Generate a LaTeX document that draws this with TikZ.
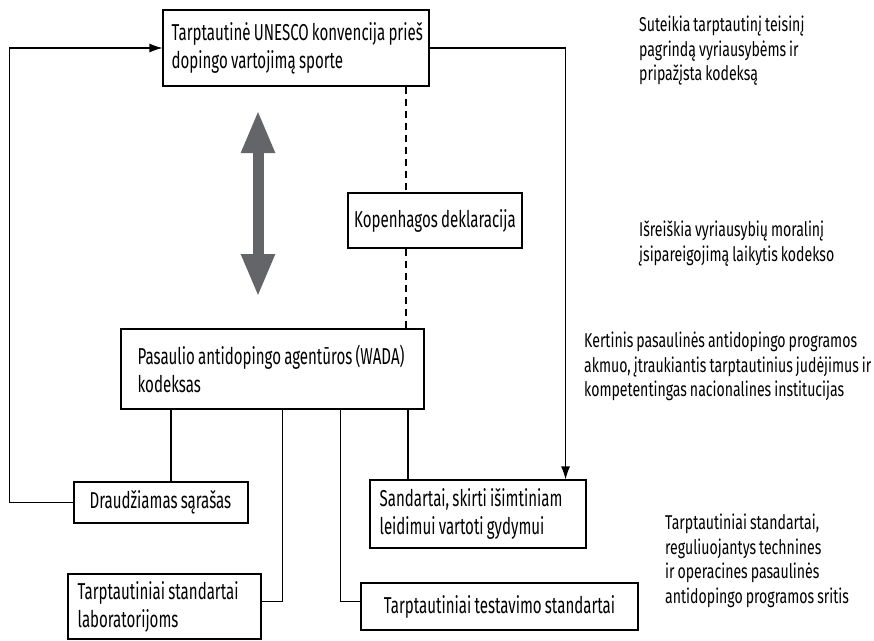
\documentclass[tikz,border=0pt]{standalone}
\usepackage{fontspec}
\setmainfont{Fira Sans}[FakeStretch=0.655, WordSpace=0.8]
\newfontfamily\notefam{Fira Sans}[FakeStretch=0.705, WordSpace=0.8]
\usetikzlibrary{arrows.meta}

\definecolor{arrowgray}{HTML}{646569}
\newcommand\boxfont{\fontsize{23}{28}\selectfont}
\newcommand\notefont{\notefam\fontsize{20}{24.5}\selectfont}

\tikzset{
    box/.style={draw, line width=1.1pt, fill=white},
    boxtext/.style={align=flush left, font=\boxfont, inner sep=0pt, anchor=west},
    note/.style={align=flush left, font=\notefont, inner sep=0pt, anchor=north west},
    conn/.style={line width=1.1pt},
    tip/.style={-{Latex[length=13pt,width=9pt]}}
}

\begin{document}
\begin{tikzpicture}[x=1pt, y=-1pt]
        \useasboundingbox (0,0) rectangle (874,640);

        % boxes
        \node[box, minimum width=266pt, minimum height=76pt] (unesco) at (296,48) {};
        \node[boxtext] (unesco-t) at ([xshift=9pt]unesco.west) {Tarptautinė UNESCO konvencija prieš\\dopingo vartojimą sporte};
        \node[box, minimum width=174pt, minimum height=55pt] (kopen) at (435,220.5) {};
        \node[boxtext, anchor=center] (kopen-t) at (kopen.center) {Kopenhagos deklaracija};
        \node[box, minimum width=303pt, minimum height=80pt] (wada) at (272.5,369) {};
        \node[boxtext] (wada-t) at ([xshift=17pt]wada.west) {Pasaulio antidopingo agentūros (WADA)\\kodeksas};
        \node[box, minimum width=174pt, minimum height=41pt] (draud) at (161,502.5) {};
        \node[boxtext] (draud-t) at ([xshift=16pt]draud.west) {Draudžiamas sąrašas};
        \node[box, minimum width=193pt, minimum height=65pt] (lab) at (164.5,606.5) {};
        \node[boxtext] (lab-t) at ([xshift=10pt]lab.west) {Tarptautiniai standartai\\laboratorijoms};
        \node[box, minimum width=216pt, minimum height=68pt] (sand) at (478,514) {};
        \node[boxtext] (sand-t) at ([xshift=10pt]sand.west) {Sandartai, skirti išimtiniam\\leidimui vartoti gydymui};
        \node[box, minimum width=277pt, minimum height=47pt] (test) at (499.5,606.5) {};
        \node[boxtext, anchor=center] (test-t) at (test.center) {Tarptautiniai testavimo standartai};

        % notes on the right
        \node[note] (n1) at (639,16) {Suteikia tarptautinį teisinį\\pagrindą vyriausybėms ir\\pripažįsta kodeksą};
        \node[note] (n2) at (639,221) {Išreiškia vyriausybių moralinį\\įsipareigojimą laikytis kodekso};
        \node[note] (n3) at (584,332) {Kertinis pasaulinės antidopingo programos\\akmuo, įtraukiantis tarptautinius judėjimus ir\\kompetentingas nacionalines institucijas};
        \node[note] (n4) at (665,514) {Tarptautiniai standartai,\\reguliuojantys technines\\ir operacines pasaulinės\\antidopingo programos sritis};

        % big two-way arrow
        \coordinate (up) at (258,110);
        \coordinate (dn) at (258,297);
        \draw[arrowgray, line width=11pt, {Triangle[length=43pt,width=31pt]}-{Triangle[length=43pt,width=31pt]}] (up) -- (dn);

        % dashed link through the declaration
        \coordinate (dl) at (406,0);
        \draw[conn, dash pattern=on 7pt off 5pt] (dl |- unesco.south) -- (dl |- kopen.north);
        \draw[conn, dash pattern=on 7pt off 5pt] (dl |- kopen.south) -- (dl |- wada.north);

        % arrows
        \draw[conn, tip] (draud.west) -- ++(-64,0) |- (unesco.west);
        \draw[conn, tip] (unesco.east) -| ([xshift=-21pt]sand.north east);

        % branches of the code
        \draw[conn] ([xshift=10pt]draud.north) -- ([xshift=10pt]draud.north |- wada.south);
        \draw[conn] ([xshift=-70pt]sand.north) -- ([xshift=-70pt]sand.north |- wada.south);
        \draw[conn] ([yshift=5pt]lab.east) -| ([xshift=162pt]wada.south west);
        \draw[conn] ([yshift=5pt]test.west) -| ([xshift=220pt]wada.south west);
    \end{tikzpicture}
\end{document}
